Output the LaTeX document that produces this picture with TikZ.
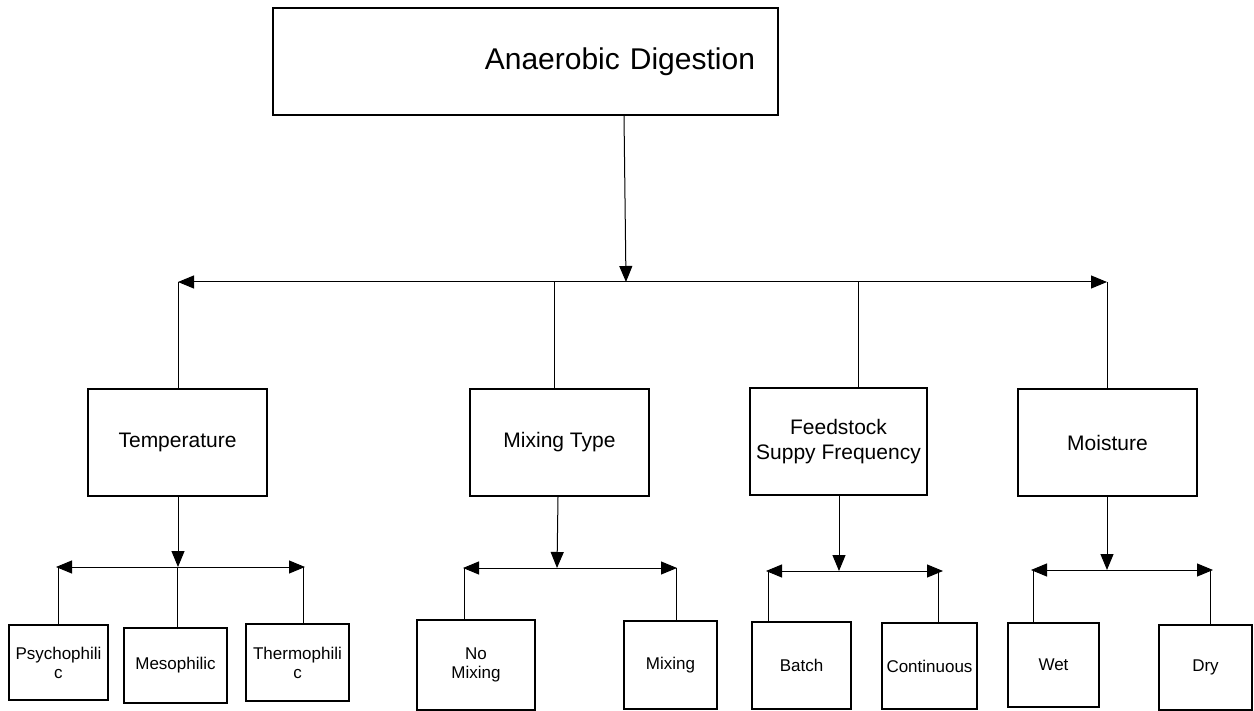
\documentclass[tikz,border=0pt]{standalone}
\usepackage{fontspec}
\setmainfont{Liberation Sans}
\usetikzlibrary{arrows.meta}
\begin{document}
\begin{tikzpicture}[x=1pt,y=-1pt,
  box/.style={draw, line width=1.8pt, inner sep=0pt, align=center},
  conn/.style={line width=1pt},
  arr/.style={conn, -{Triangle[length=16pt,width=13pt]}},
  big/.style={font=\fontsize{30}{34}\selectfont},
  mid/.style={font=\fontsize{21}{25}\selectfont},
  small/.style={font=\fontsize{17}{19}\selectfont}]
\useasboundingbox (0,0) rectangle (1254,711);
\fill[white] (0,0) rectangle (1254,711);

% top
\node[box, big, inner xsep=23pt, text width=459pt, align=right, minimum height=107pt] (top) at (525.5,61.5) {Anaerobic Digestion};

% second level
\node[box, mid, minimum width=179pt, minimum height=107pt] (temp) at (177.5,442.5) {Temperature};
\node[box, mid, minimum width=179pt, minimum height=107pt] (mix) at (559.5,442.5) {Mixing Type};
\node[box, mid, minimum width=177pt, minimum height=107pt] (feed) at (838.5,441.5) {Feedstock\\Suppy Frequency};
\node[box, mid, minimum width=179pt, minimum height=107pt] (moist) at (1107.5,442.5) {Moisture};

% third level
\node[box, small, minimum width=99pt, minimum height=75pt] (psy) at (58.5,662.5) {Psychophili\\c};
\node[box, small, minimum width=103pt, minimum height=75pt] (meso) at (175.5,665.5) {Mesophilic};
\node[box, small, minimum width=103pt, minimum height=77pt] (thermo) at (297.5,662.5) {Thermophili\\c};
\node[box, small, minimum width=118pt, minimum height=90pt] (nomix) at (476,665) {No\\Mixing};
\node[box, small, minimum width=93pt, minimum height=88pt] (mixing) at (670.5,665) {Mixing};
\node[box, small, minimum width=99pt, minimum height=87pt] (batch) at (801.5,665.5) {Batch};
\node[box, small, minimum width=95pt, minimum height=86pt] (cont) at (929.5,666) {Continuous};
\node[box, small, minimum width=91pt, minimum height=84pt] (wet) at (1053.5,665) {Wet};
\node[box, small, minimum width=93pt, minimum height=85pt] (dry) at (1205.5,667.5) {Dry};

% main bus
\coordinate (j0) at (626,282);
\coordinate (L0) at (178,282);
\coordinate (R0) at (1107,282);
\coordinate (m0) at (554,282);
\coordinate (f0) at (858,282);
\draw[arr] (top.south -| 624,0) -- (j0);
\draw[arr] (j0) -- (L0);
\draw[arr] (j0) -- (R0);
\draw[conn] (L0) -- (L0 |- temp.north);
\draw[conn] (m0) -- (m0 |- mix.north);
\draw[conn] (f0) -- (f0 |- feed.north);
\draw[conn] (R0) -- (R0 |- moist.north);

% temperature group
\coordinate (t0) at (178,567);
\coordinate (tL) at (56,567);
\coordinate (tR) at (305,567);
\draw[arr] (temp.south -| t0) -- (t0);
\draw[arr] (t0) -- (tL);
\draw[arr] (t0) -- (tR);
\draw[conn] (58,567) -- (58,0 |- psy.north);
\draw[conn] (177,567) -- (177,0 |- meso.north);
\draw[conn] (303,567) -- (303,0 |- thermo.north);

% mixing group
\coordinate (x0) at (557,568);
\coordinate (xL) at (463,568);
\coordinate (xR) at (677,568);
\draw[arr] (mix.south -| 558,0) -- (x0);
\draw[arr] (x0) -- (xL);
\draw[arr] (x0) -- (xR);
\draw[conn] (464,568) -- (464,0 |- nomix.north);
\draw[conn] (676,568) -- (676,0 |- mixing.north);

% feedstock group
\coordinate (f1) at (839,571);
\coordinate (fL) at (766,571);
\coordinate (fR) at (943,571);
\draw[arr] (feed.south -| f1) -- (f1);
\draw[arr] (f1) -- (fL);
\draw[arr] (f1) -- (fR);
\draw[conn] (768,571) -- (768,0 |- batch.north);
\draw[conn] (938,571) -- (938,0 |- cont.north);

% moisture group
\coordinate (w0) at (1107,570);
\coordinate (wL) at (1031,570);
\coordinate (wR) at (1213,570);
\draw[arr] (moist.south -| w0) -- (w0);
\draw[arr] (w0) -- (wL);
\draw[arr] (w0) -- (wR);
\draw[conn] (1033,570) -- (1033,0 |- wet.north);
\draw[conn] (1210,570) -- (1210,0 |- dry.north);
\end{tikzpicture}
\end{document}
